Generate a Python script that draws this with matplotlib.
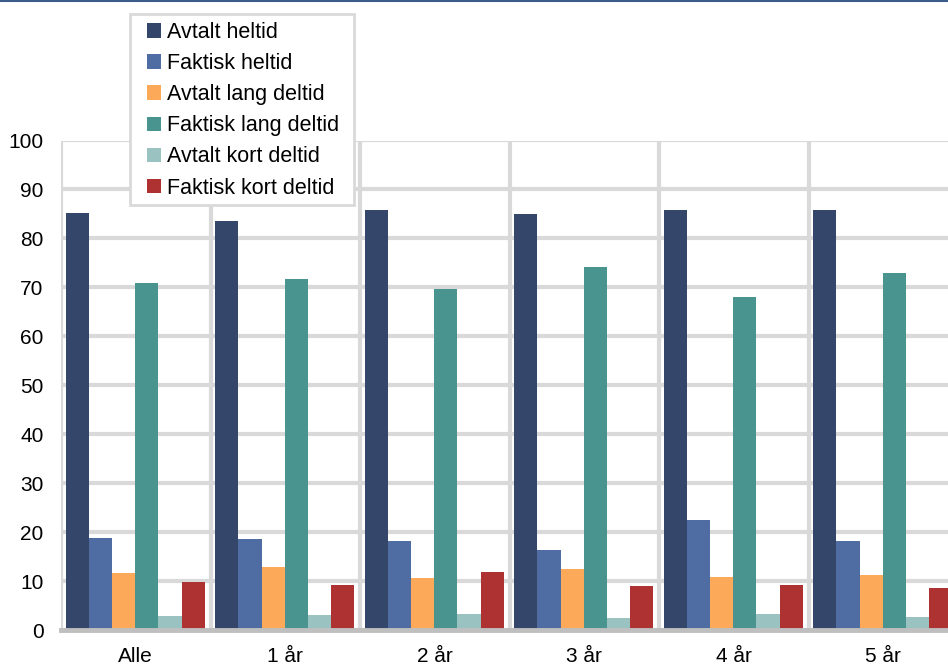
import matplotlib.pyplot as plt
import numpy as np
from matplotlib.patches import Patch, Rectangle
from matplotlib.lines import Line2D

plt.rcParams['font.family'] = ['Liberation Sans', 'DejaVu Sans']

grupper = ["Alle", "1 år", "2 år", "3 år", "4 år", "5 år"]
serier = ["Avtalt heltid", "Faktisk heltid", "Avtalt lang deltid",
          "Faktisk lang deltid", "Avtalt kort deltid", "Faktisk kort deltid"]

avtalt_heltid = [85.1, 83.6, 85.9, 84.9, 85.7, 85.9]
faktisk_heltid = [18.8, 18.6, 18.2, 16.4, 22.4, 18.2]
avtalt_lang = [11.7, 12.9, 10.6, 12.5, 10.8, 11.2]
faktisk_lang = [70.9, 71.7, 69.7, 74.2, 68.0, 72.9]
avtalt_kort = [2.9, 3.0, 3.3, 2.5, 3.3, 2.6]
faktisk_kort = [9.9, 9.2, 11.8, 9.0, 9.1, 8.6]

verdier = [avtalt_heltid, faktisk_heltid, avtalt_lang,
           faktisk_lang, avtalt_kort, faktisk_kort]
farger = ["#34476A", "#4F6CA3", "#FDA95A", "#4A9490", "#9AC2C0", "#AE3232"]

W, H = 948, 664
fig = plt.figure(figsize=(W/100, H/100), dpi=100)
# plot area runs past the right edge, as in the original
ax = fig.add_axes([61/W, 34/H, 897/W, 489.5/H])

x = np.arange(len(grupper))
b = 0.155
start = -0.5 + 4.8/149.5
for i in range(6):
    ax.bar(x + start + b*i + b/2, verdier[i], width=b, color=farger[i],
           zorder=3, linewidth=0)

ax.set_xlim(-0.5, 5.5)
ax.set_ylim(0, 100)
ax.set_yticks(range(0, 101, 10))
ax.set_xticks(x)
ax.set_xticklabels(grupper)
ax.set_xticks(np.arange(-0.5, 6, 1), minor=True)

ax.grid(True, which='major', axis='y', color='#D9D9D9', linewidth=3, zorder=0)
ax.grid(True, which='minor', axis='x', color='#D9D9D9', linewidth=3, zorder=0)
ax.tick_params(axis='both', which='both', length=0, labelsize=15, colors='black')
ax.tick_params(axis='y', pad=12.5)
ax.tick_params(axis='x', pad=12)

for s in ['top', 'right', 'left']:
    ax.spines[s].set_visible(False)
ax.spines['bottom'].set_color('#BFBFBF')
ax.spines['bottom'].set_linewidth(3.5)
ax.spines['bottom'].set_zorder(4)

# legend box drawn separately so the padding can differ side/top
boks = Rectangle((130/W, 1 - 205/H), 224/W, 191/H, transform=fig.transFigure,
                 facecolor='white', edgecolor='#D9D9D9', linewidth=2, zorder=5)
fig.add_artist(boks)

handles = [Patch(facecolor=farger[i], edgecolor='none') for i in range(6)]
leg = fig.legend(handles, serier, loc='upper left',
                 bbox_to_anchor=(147/W, 1 - 22/H), borderaxespad=0,
                 fontsize=15.5, handlelength=0.65, handleheight=0.65,
                 handletextpad=0.3, labelspacing=0.47, borderpad=0,
                 frameon=False)
leg.set_zorder(6)

fig.add_artist(Line2D([0, 1], [0.999, 0.999], color='#3E5C8A', linewidth=1.5))

fig.savefig("out.png", dpi=100)
